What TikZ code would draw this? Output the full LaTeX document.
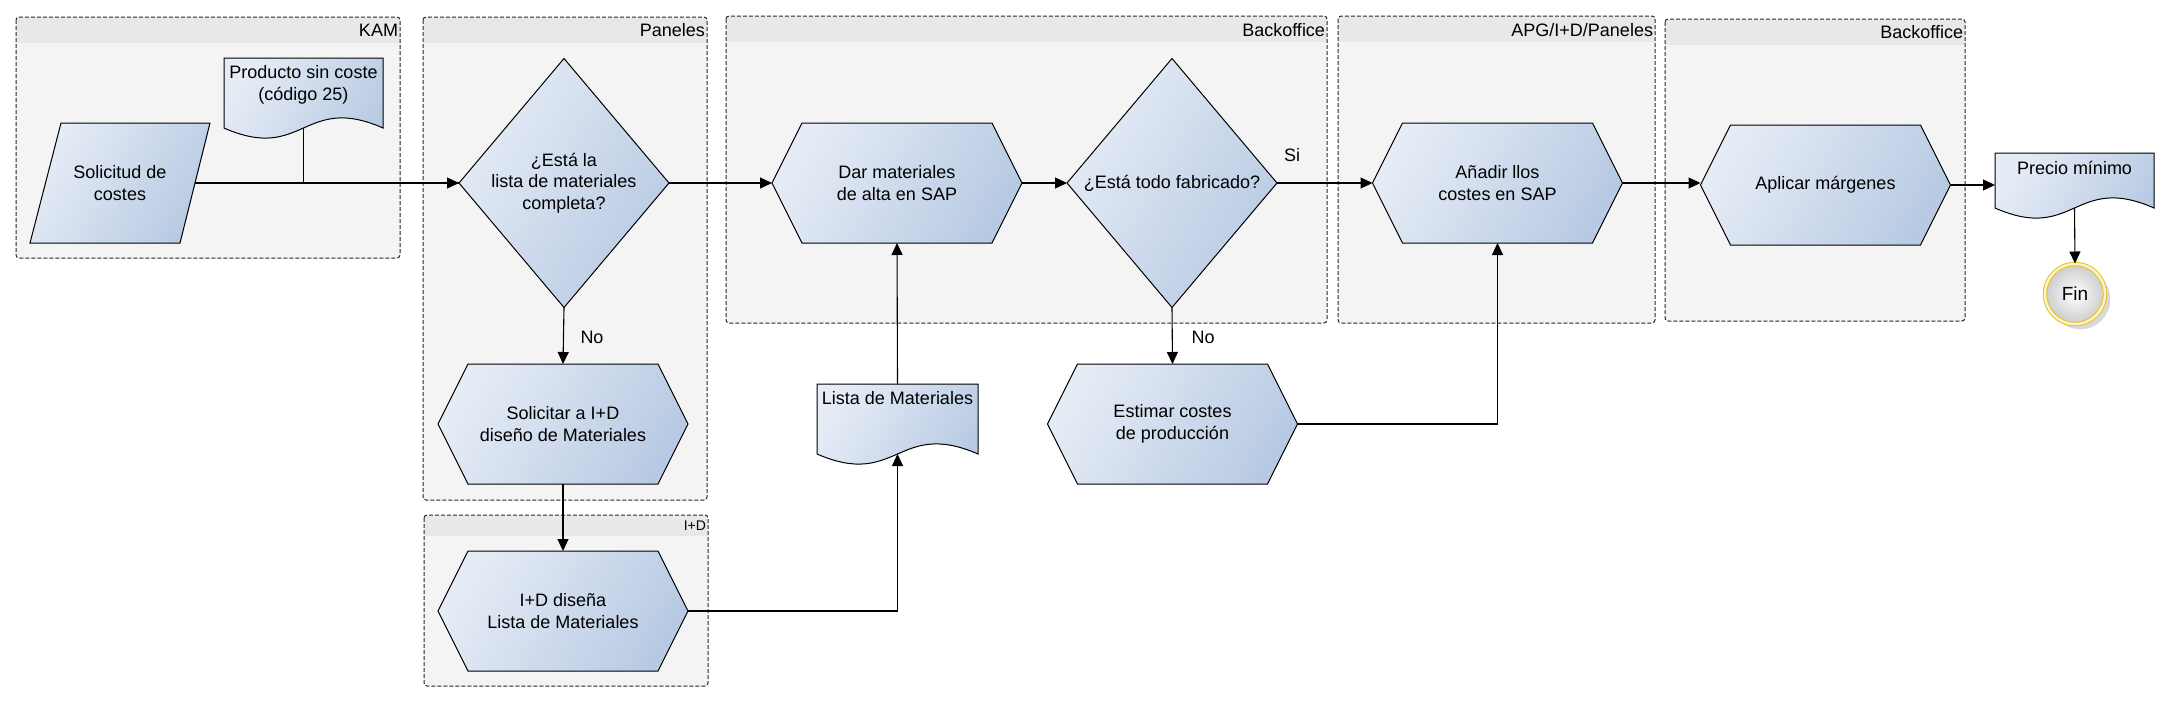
\documentclass[tikz,border=0pt]{standalone}
\usepackage{fontspec}
\setmainfont{Liberation Sans}
\usetikzlibrary{arrows.meta,calc,shadows}
\pgfdeclarelayer{lanes}
\pgfdeclarelayer{shapes}
\pgfsetlayers{lanes,shapes,main}
\definecolor{lanefill}{RGB}{244,244,244}
\definecolor{lanehead}{RGB}{232,232,232}
\definecolor{shlight}{RGB}{230,236,246}
\definecolor{shdark}{RGB}{184,202,227}
\definecolor{finring}{RGB}{230,196,30}
\tikzset{
  lbl/.style={font=\fontsize{9}{10.85}\selectfont, align=center, inner sep=0pt, outer sep=0pt},
  hexbox/.style={lbl, minimum width=125pt, minimum height=60pt},
  diabox/.style={lbl, minimum width=105pt, minimum height=124.5pt},
  docbox/.style={lbl},
  shapestyle/.style={draw=black, line width=0.5pt, top color=shlight, bottom color=shdark, shading angle=60},
  lanebox/.style={draw=black!85, line width=0.5pt, dash pattern=on 2pt off 1pt, rounded corners=1.5pt},
  lanelbl/.style={lbl, anchor=east},
  conn/.style={line width=0.55pt, -{Triangle[length=6pt,width=5.5pt]}},
  plain/.style={line width=0.55pt},
  fin/.style={circle, minimum size=30pt, inner sep=0pt, font=\fontsize{9.5}{11}\selectfont,
    draw=finring, line width=0.5pt, double=finring!20!white, double distance=1.2pt,
    inner color=white, outer color=black!20, drop shadow={opacity=0.3}}
}
\newcommand{\hexdraw}[1]{%
  \path[shapestyle] (#1.west) -- ($(#1.north west)+(30,0)$) -- ($(#1.north east)+(-30,0)$) -- (#1.east)
    -- ($(#1.south east)+(-30,0)$) -- ($(#1.south west)+(30,0)$) -- cycle;}
\newcommand{\diadraw}[1]{%
  \path[shapestyle] (#1.west) -- (#1.north) -- (#1.east) -- (#1.south) -- cycle;}
\newcommand{\docdraw}[1]{%
  \path[shapestyle] (#1.north west) -- (#1.north east) -- (#1.south east)
    .. controls ($(#1.south)+(0,-35)$) and ($(#1.south)+(0,35)$) .. (#1.south west) -- cycle;}
\newcommand{\lanedraw}[5]{%
  \path[fill=lanefill, rounded corners=1.5pt] (#1,#2) rectangle (#3,#4);
  \path[fill=lanehead] ($(#1,#2)+(0.5,0.5)$) rectangle ($(#3,#5)+(-0.5,0)$);
  \path[lanebox] (#1,#2) rectangle (#3,#4);}
\begin{document}
\begin{tikzpicture}[x=0.5pt,y=-0.5pt]
\useasboundingbox (0,0) rectangle (2170,702);

% lanes
\begin{pgfonlayer}{lanes}
\lanedraw{16}{17}{400}{258}{43}
\lanedraw{423}{17}{707}{500}{43}
\lanedraw{424}{515}{708}{686}{536}
\lanedraw{726}{16}{1327}{323}{42}
\lanedraw{1338}{16}{1655}{323}{42}
\lanedraw{1665}{19}{1965}{321}{45}
\end{pgfonlayer}
\node[lanelbl] (lkam) at (398,30) {KAM};
\node[lanelbl] (lpan) at (705,30) {Paneles};
\node[lanelbl, font=\fontsize{7}{8}\selectfont] (lid) at (706,526) {I+D};
\node[lanelbl] (lbo1) at (1325,30) {Backoffice};
\node[lanelbl] (lapg) at (1653,30) {APG/I+D/Paneles};
\node[lanelbl] (lbo2) at (1963,32) {Backoffice};

% nodes
\node[lbl, minimum width=75pt, minimum height=60pt] (sol) at (120,183) {Solicitud de\\costes};
\node[docbox, minimum width=79.5pt, minimum height=35pt] (prod) at (303.5,93) {};
\node[lbl] (prodt) at (303.5,85) {Producto sin coste\\(código 25)};
\node[diabox] (d1) at (564,183) {¿Está la\\lista de materiales\\completa?};
\node[hexbox] (dar) at (897,183) {Dar materiales\\de alta en SAP};
\node[diabox] (d2) at (1172,183) {¿Está todo fabricado?};
\node[hexbox] (solic) at (563,424) {Solicitar a I+D\\diseño de Materiales};
\node[hexbox] (idd) at (563,611) {I+D diseña\\Lista de Materiales};
\node[docbox, minimum width=80.5pt, minimum height=35pt] (lista) at (897.5,419) {};
\node[lbl] (listat) at (897.5,398) {Lista de Materiales};
\node[hexbox] (est) at (1172.5,424) {Estimar costes\\de producción};
\node[hexbox] (anad) at (1497.5,183) {Añadir llos\\costes en SAP};
\node[hexbox] (apl) at (1825.5,185) {Aplicar márgenes};
\node[docbox, minimum width=79.5pt, minimum height=27.5pt] (precio) at (2074.5,180.5) {};
\node[lbl] (preciot) at (2074.5,168) {Precio mínimo};
\node[fin] (fin) at (2075,294) {Fin};

% shapes
\begin{pgfonlayer}{shapes}
\path[shapestyle] ($(sol.north west)+(16,0)$) -- ($(sol.north east)+(15,0)$)
  -- ($(sol.south east)+(-15,0)$) -- ($(sol.south west)+(-15,0)$) -- cycle;
\docdraw{prod}
\docdraw{lista}
\docdraw{precio}
\diadraw{d1}
\diadraw{d2}
\hexdraw{dar}
\hexdraw{solic}
\hexdraw{idd}
\hexdraw{est}
\hexdraw{anad}
\hexdraw{apl}
\end{pgfonlayer}

% labels
\node[lbl] (no1) at (592,337) {No};
\node[lbl] (no2) at (1203,337) {No};
\node[lbl] (si) at (1292,155) {Si};

% connectors
\draw[conn] (sol.east) -- (d1.west);
\draw[plain] (prod.south) |- (d1.west);
\draw[conn] (d1.east) -- (dar.west);
\draw[conn] (d1.south) -- (solic.north);
\draw[conn] (solic.south) -- (idd.north);
\draw[conn] (idd.east) -| (lista.south);
\draw[conn] (lista.north) -- (dar.south);
\draw[conn] (dar.east) -- (d2.west);
\draw[conn] (d2.east) -- (anad.west);
\draw[conn] (d2.south) -- (est.north);
\draw[conn] (est.east) -| (anad.south);
\draw[conn] (anad.east) -- (anad.east -| apl.west);
\draw[conn] (apl.east) -- (apl.east -| precio.west);
\draw[conn] (precio.south) -- (fin.north);
\end{tikzpicture}
\end{document}
